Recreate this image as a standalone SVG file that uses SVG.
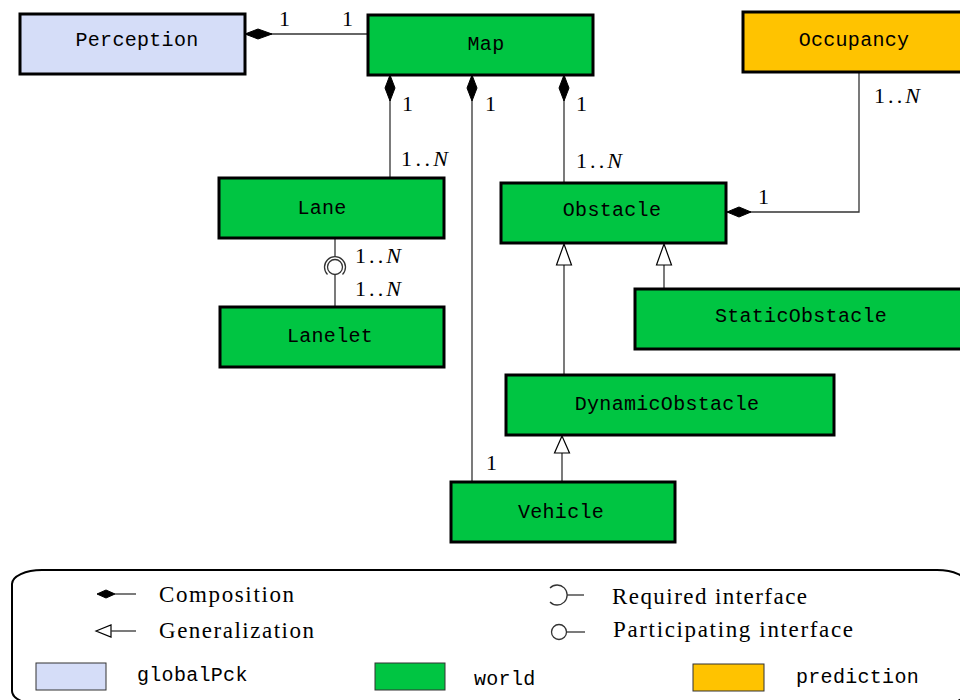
<svg xmlns="http://www.w3.org/2000/svg" width="960" height="700" viewBox="0 0 960 700">
<style>
.box{stroke:#000;stroke-width:3}
.blue{fill:#d5ddf8}
.green{fill:#00c542}
.yellow{fill:#ffc300}
.tt{font-family:"Liberation Mono","DejaVu Sans Mono",monospace;font-size:20px;letter-spacing:0.3px;fill:#000;text-anchor:middle}
.ttl{font-family:"Liberation Mono","DejaVu Sans Mono",monospace;font-size:20px;letter-spacing:0.3px;fill:#000}
.num{font-family:"Liberation Serif","DejaVu Serif",serif;font-size:22px;fill:#000}
.it{font-style:italic}
.leg{font-family:"Liberation Serif","DejaVu Serif",serif;font-size:23px;fill:#000}
.ln{stroke:#333;stroke-width:1.3;fill:none}
.dia{fill:#000;stroke:#000;stroke-width:1}
.tri{fill:#fff;stroke:#000;stroke-width:1.2}
</style>
<rect width="960" height="700" fill="#fff"/>
<g id="connectors">
  <line class="ln" x1="245" y1="34" x2="368" y2="34"/>
  <polygon class="dia" points="245,34 258,29 272,34 258,39"/>
  <line class="ln" x1="390" y1="75" x2="390" y2="178"/>
  <polygon class="dia" points="390,75 395,88 390,101 385,88"/>
  <line class="ln" x1="472" y1="75" x2="472" y2="482"/>
  <polygon class="dia" points="472,75 477,88 472,101 467,88"/>
  <line class="ln" x1="564" y1="75" x2="564" y2="183"/>
  <polygon class="dia" points="564,75 569,88 564,101 559,88"/>
  <polyline class="ln" points="859,72 859,212 727,212"/>
  <polygon class="dia" points="727,212 739,207 751,212 739,217"/>
  <line class="ln" x1="335" y1="238" x2="335" y2="257"/>
  <path class="ln" d="M327.5,274.5 A10.5,10.5 0 1 1 342.5,274.5"/>
  <circle class="ln" cx="335" cy="267" r="7.5"/>
  <line class="ln" x1="335" y1="274.5" x2="335" y2="307"/>
  <line class="ln" x1="564" y1="265" x2="564" y2="375"/>
  <polygon class="tri" points="564,244 571.5,265 556.5,265"/>
  <line class="ln" x1="664" y1="265" x2="664" y2="289"/>
  <polygon class="tri" points="664,244 671.5,265 656.5,265"/>
  <line class="ln" x1="562" y1="453" x2="562" y2="482"/>
  <polygon class="tri" points="562,436 569.5,453 554.5,453"/>
  <text class="num" x="279" y="26">1</text>
  <text class="num" x="342" y="26">1</text>
  <text class="num" x="402" y="111">1</text>
  <text class="num" x="401" y="166" textLength="47">1..<tspan class="it">N</tspan></text>
  <text class="num" x="485" y="111">1</text>
  <text class="num" x="576" y="111">1</text>
  <text class="num" x="576" y="168" textLength="46">1..<tspan class="it">N</tspan></text>
  <text class="num" x="874" y="103" textLength="46">1..<tspan class="it">N</tspan></text>
  <text class="num" x="758" y="204">1</text>
  <text class="num" x="355" y="263" textLength="46">1..<tspan class="it">N</tspan></text>
  <text class="num" x="355" y="296" textLength="46">1..<tspan class="it">N</tspan></text>
  <text class="num" x="486" y="470">1</text>
</g>
<g id="Perception"><rect class="box blue" x="20" y="14" width="225" height="60"/><text class="tt" x="137" y="46">Perception</text></g>
<g id="Map"><rect class="box green" x="368" y="15" width="225" height="60"/><text class="tt" x="486" y="50">Map</text></g>
<g id="Occupancy"><rect class="box yellow" x="743" y="12" width="230" height="60"/><text class="tt" x="854" y="46">Occupancy</text></g>
<g id="Lane"><rect class="box green" x="219" y="178" width="225" height="60"/><text class="tt" x="322" y="214">Lane</text></g>
<g id="Lanelet"><rect class="box green" x="220" y="307" width="224" height="60"/><text class="tt" x="330" y="342">Lanelet</text></g>
<g id="Obstacle"><rect class="box green" x="501" y="183" width="225" height="60"/><text class="tt" x="612" y="216">Obstacle</text></g>
<g id="StaticObstacle"><rect class="box green" x="635" y="289" width="340" height="60"/><text class="tt" x="801" y="322">StaticObstacle</text></g>
<g id="DynamicObstacle"><rect class="box green" x="506" y="375" width="328" height="60"/><text class="tt" x="667" y="410">DynamicObstacle</text></g>
<g id="Vehicle"><rect class="box green" x="451" y="482" width="224" height="60"/><text class="tt" x="561" y="518">Vehicle</text></g>
<g id="legend">
  <rect x="12" y="570" width="955" height="135" rx="30" ry="14" fill="none" stroke="#000" stroke-width="2"/>
  <polygon class="dia" points="97,594 106,590 115,594 106,598"/>
  <line class="ln" x1="115" y1="594" x2="136" y2="594"/>
  <text class="leg" x="159" y="602" textLength="135">Composition</text>
  <polygon class="tri" points="96,631 111,625 111,637"/>
  <line class="ln" x1="111" y1="631" x2="136" y2="631"/>
  <text class="leg" x="159" y="638" textLength="155">Generalization</text>
  <path class="ln" d="M550,588 A10,10 0 1 1 550,602"/>
  <line class="ln" x1="567" y1="595" x2="584" y2="595"/>
  <text class="leg" x="612" y="604" textLength="195">Required interface</text>
  <circle class="ln" cx="559" cy="632" r="7.5"/>
  <line class="ln" x1="566.5" y1="632" x2="585" y2="632"/>
  <text class="leg" x="613" y="637" textLength="240">Participating interface</text>
  <rect class="blue" x="36" y="663" width="70" height="27" stroke="#333" stroke-width="1"/>
  <text class="ttl" x="137" y="681">globalPck</text>
  <rect class="green" x="375" y="663" width="70" height="27" stroke="#333" stroke-width="1"/>
  <text class="ttl" x="474" y="685">world</text>
  <rect class="yellow" x="693" y="664" width="71" height="27" stroke="#333" stroke-width="1"/>
  <text class="ttl" x="796" y="683">prediction</text>
</g>
</svg>
